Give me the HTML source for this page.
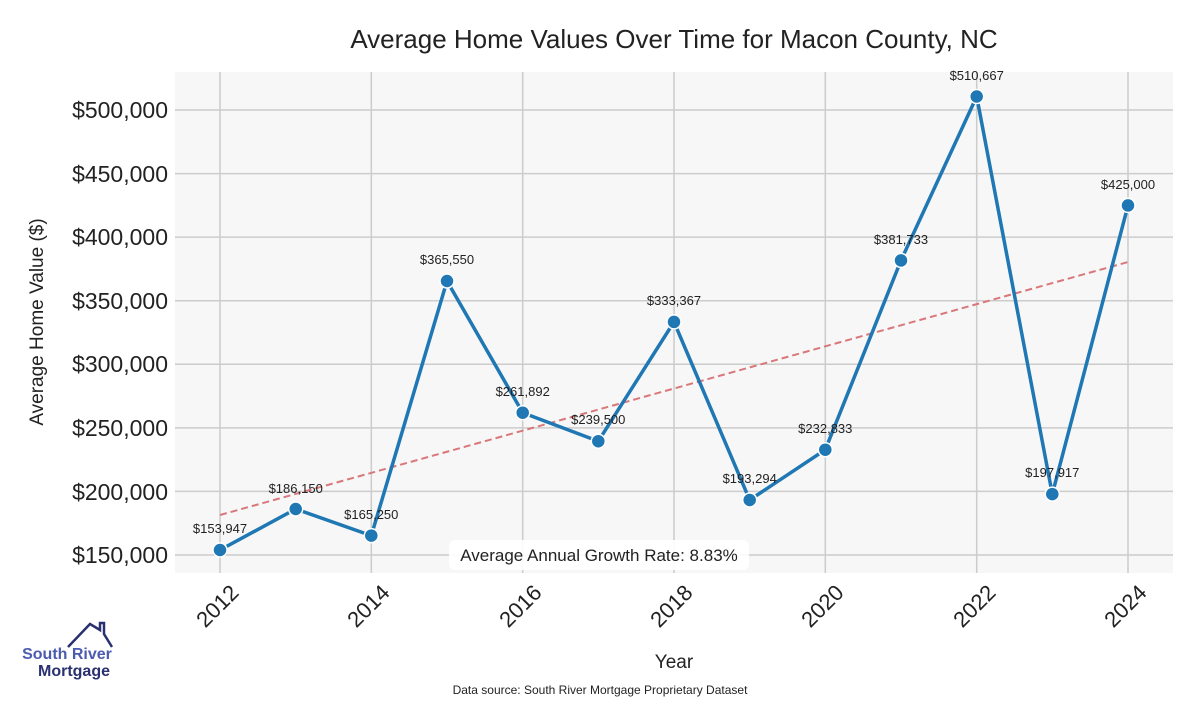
<!DOCTYPE html>
<html><head><style>
body{margin:0;background:#fff;}
svg text{font-family:"Liberation Sans",sans-serif;}
</style></head><body>
<svg width="1200" height="700" xmlns="http://www.w3.org/2000/svg">
<rect x="175" y="72" width="998" height="501" fill="#f7f7f7"/>
<g stroke="#cccccc" stroke-width="1.5">
<line x1="175" x2="1173" y1="110" y2="110"/><line x1="175" x2="1173" y1="173.6" y2="173.6"/>
<line x1="175" x2="1173" y1="237.1" y2="237.1"/><line x1="175" x2="1173" y1="300.7" y2="300.7"/>
<line x1="175" x2="1173" y1="364.3" y2="364.3"/><line x1="175" x2="1173" y1="427.9" y2="427.9"/>
<line x1="175" x2="1173" y1="491.4" y2="491.4"/><line x1="175" x2="1173" y1="555" y2="555"/>
<line x1="220" x2="220" y1="72" y2="573"/><line x1="371.3" x2="371.3" y1="72" y2="573"/>
<line x1="522.7" x2="522.7" y1="72" y2="573"/><line x1="674" x2="674" y1="72" y2="573"/>
<line x1="825.3" x2="825.3" y1="72" y2="573"/><line x1="976.7" x2="976.7" y1="72" y2="573"/>
<line x1="1128" x2="1128" y1="72" y2="573"/>
</g>
<g font-size="23" fill="#222" text-anchor="end">
<text x="168" y="118">$500,000</text><text x="168" y="182">$450,000</text><text x="168" y="245">$400,000</text>
<text x="168" y="309">$350,000</text><text x="168" y="372">$300,000</text><text x="168" y="436">$250,000</text>
<text x="168" y="500">$200,000</text><text x="168" y="563">$150,000</text>
</g>
<g font-size="22" fill="#222" text-anchor="end">
<text transform="translate(240,594) rotate(-45)">2012</text>
<text transform="translate(391,594) rotate(-45)">2014</text>
<text transform="translate(543,594) rotate(-45)">2016</text>
<text transform="translate(694,594) rotate(-45)">2018</text>
<text transform="translate(845,594) rotate(-45)">2020</text>
<text transform="translate(997,594) rotate(-45)">2022</text>
<text transform="translate(1148,594) rotate(-45)">2024</text>
</g>
<text x="674" y="48" font-size="26" fill="#222" text-anchor="middle">Average Home Values Over Time for Macon County, NC</text>
<text x="674" y="668" font-size="19" fill="#222" text-anchor="middle">Year</text>
<text transform="translate(43,322) rotate(-90)" font-size="19" fill="#222" text-anchor="middle">Average Home Value ($)</text>
<text x="600" y="694" font-size="12" fill="#222" text-anchor="middle">Data source: South River Mortgage Proprietary Dataset</text>
<line x1="220" y1="515" x2="1128" y2="262" stroke="#d9777a" stroke-width="2" stroke-dasharray="7,4"/>
<polyline fill="none" stroke="#1f77b4" stroke-width="3.5" points="220,550 295.7,509 371.3,535.6 447,281 522.7,412.7 598.3,441.2 674,321.9 749.7,500 825.3,449.7 901,260.4 976.7,96.5 1052.3,494.1 1128,205.4"/>
<g fill="#1f77b4" stroke="#fff" stroke-width="1.5">
<circle cx="220" cy="550" r="7"/><circle cx="295.7" cy="509" r="7"/><circle cx="371.3" cy="535.6" r="7"/>
<circle cx="447" cy="281" r="7"/><circle cx="522.7" cy="412.7" r="7"/><circle cx="598.3" cy="441.2" r="7"/>
<circle cx="674" cy="321.9" r="7"/><circle cx="749.7" cy="500" r="7"/><circle cx="825.3" cy="449.7" r="7"/>
<circle cx="901" cy="260.4" r="7"/><circle cx="976.7" cy="96.5" r="7"/><circle cx="1052.3" cy="494.1" r="7"/>
<circle cx="1128" cy="205.4" r="7"/>
</g>
<g font-size="13" fill="#222" text-anchor="middle">
<text x="220" y="533">$153,947</text><text x="295.7" y="493">$186,150</text><text x="371.3" y="519">$165,250</text>
<text x="447" y="264">$365,550</text><text x="522.7" y="396">$261,892</text><text x="598.3" y="424">$239,500</text>
<text x="674" y="305">$333,367</text><text x="749.7" y="483">$193,294</text><text x="825.3" y="433">$232,833</text>
<text x="901" y="244">$381,733</text><text x="976.7" y="80">$510,667</text><text x="1052.3" y="477">$197,917</text>
<text x="1128" y="189">$425,000</text>
</g>
<rect x="449" y="540" width="300" height="30" rx="6" fill="#fff" opacity="0.9"/>
<text x="599" y="561" font-size="17" fill="#222" text-anchor="middle">Average Annual Growth Rate: 8.83%</text>
<polyline points="68,647 90,624 100,630 100,623 104,623 104,634 112,647" fill="none" stroke="#2a3170" stroke-width="2.5"/>
<text x="67" y="659" font-size="16" font-weight="bold" fill="#4a5bb0" text-anchor="middle">South River</text>
<text x="74" y="676" font-size="16" font-weight="bold" fill="#2a3170" text-anchor="middle">Mortgage</text>
</svg>
</body></html>
